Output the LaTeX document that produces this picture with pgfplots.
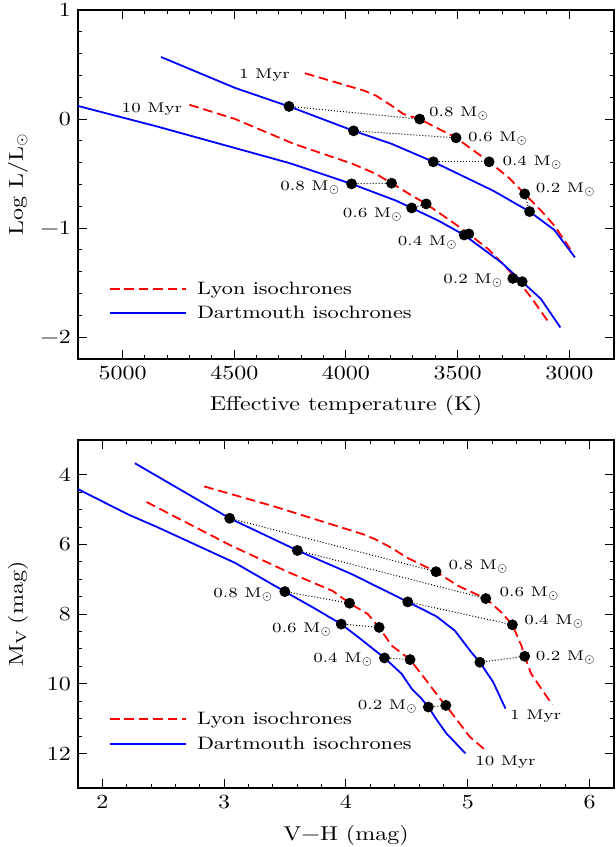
\documentclass[border=0pt]{standalone}
\usepackage{fontspec}
\setmainfont{Latin Modern Roman}[FakeStretch=1.2]
\usepackage{pgfplots}
\pgfplotsset{compat=1.18}
\definecolor{lyonred}{RGB}{255,0,0}
\definecolor{dartblue}{RGB}{0,0,255}
\tikzset{mlab/.style={font=\fontsize{7}{9}\selectfont, inner sep=0pt},
  legtext/.style={font=\fontsize{9}{11}\selectfont, inner sep=0pt, text height=7pt, text depth=2pt, anchor=west}}
\pgfplotsset{
 isoaxis/.style={
  scale only axis, width=268pt,
  tick align=inside, xtick pos=both, ytick pos=both,
  major tick length=4.5pt, minor tick length=2.2pt,
  every tick/.style={black, line width=0.5pt},
  axis line style={line width=1pt},
  tick label style={font=\fontsize{10}{12}\selectfont},
  label style={font=\fontsize{10.3}{13}\selectfont},
  every axis x label/.style={at={(axis description cs:0.5,0)}, anchor=base, yshift=-26pt},
  every axis y label/.style={at={(axis description cs:-0.112,0.5)}, rotate=90, anchor=center},
 },
 lyon/.style={color=lyonred, draw=lyonred, line width=0.9pt, dash pattern=on 4.8pt off 2.4pt},
 dart/.style={color=dartblue, draw=dartblue, line width=0.9pt, solid},
 link/.style={black, line width=0.5pt, dash pattern=on 0.5pt off 1pt, forget plot},
 dots/.style={only marks, mark=*, mark size=2.5pt, black, mark options={fill=black, solid}, forget plot},
}
\begin{document}
\begin{tikzpicture}
\useasboundingbox (0,0) rectangle (308pt,423.5pt);
% ---------------- top panel ----------------
\begin{axis}[isoaxis, at={(39pt,244pt)}, anchor=south west, height=174.5pt,
  x dir=reverse, xmin=2800, xmax=5200, ymin=-2.2, ymax=1,
  xtick={3000,3500,4000,4500,5000}, minor x tick num=4,
  xticklabels={3000,3500,4000,4500,5000},
  ytick={-2,-1,0,1}, minor y tick num=4,
  yticklabels={−2,−1,0,1},
  xlabel={Effective temperature (K)}, ylabel={Log L/L$_\odot$}]
% Lyon 1 Myr
\addplot[lyon, forget plot] coordinates {(4184,0.42) (3918,0.26) (3866,0.215) (3796,0.123) (3743,0.046) (3670,0.0) (3507,-0.172) (3359,-0.392) (3271,-0.538) (3200,-0.686) (3127,-0.839) (3067,-0.977) (2996,-1.191)};
% Dartmouth 1 Myr
\addplot[dart, forget plot] coordinates {(4828,0.569) (4496,0.285) (4255,0.116) (3966,-0.108) (3796,-0.227) (3609,-0.392) (3342,-0.656) (3178,-0.848) (3067,-1.017) (2975,-1.268)};
% Lyon 10 Myr
\addplot[lyon, forget plot] coordinates {(4701,0.131) (4496,0.0) (4234,-0.227) (3971,-0.41) (3866,-0.502) (3796,-0.588) (3706,-0.70) (3641,-0.778) (3512,-0.961) (3450,-1.053) (3364,-1.191) (3290,-1.344) (3230,-1.482) (3171,-1.635) (3089,-1.874)};
% Dartmouth 10 Myr
\addplot[dart, forget plot] coordinates {(5200,0.12) (4846,-0.068) (4251,-0.405) (3975,-0.594) (3776,-0.748) (3706,-0.815) (3587,-0.931) (3471,-1.063) (3305,-1.314) (3211,-1.491) (3127,-1.65) (3040,-1.911)};
% links
\addplot[link] coordinates {(4255,0.116) (3670,0.0)};
\addplot[link] coordinates {(3966,-0.108) (3507,-0.172)};
\addplot[link] coordinates {(3609,-0.392) (3359,-0.392)};
\addplot[link] coordinates {(3178,-0.848) (3200,-0.686)};
\addplot[link] coordinates {(3975,-0.594) (3796,-0.588)};
\addplot[link] coordinates {(3706,-0.815) (3641,-0.778)};
\addplot[link] coordinates {(3471,-1.063) (3450,-1.053)};
\addplot[link] coordinates {(3253,-1.461) (3211,-1.491)};
% dots
\addplot[dots] coordinates {(4255,0.116) (3670,0.0) (3966,-0.108) (3507,-0.172) (3609,-0.392) (3359,-0.392) (3178,-0.848) (3200,-0.686)
 (3975,-0.594) (3796,-0.588) (3706,-0.815) (3641,-0.778) (3471,-1.063) (3450,-1.053) (3253,-1.461) (3211,-1.491)};
% labels
\node[mlab, anchor=center] at (axis cs:4365,0.40) {1 Myr};
\node[mlab, anchor=center] at (axis cs:4869,0.095) {10 Myr};
\node[mlab, anchor=west] at (axis cs:3630,0.05) {0.8 M$_\odot$};
\node[mlab, anchor=west] at (axis cs:3455,-0.175) {0.6 M$_\odot$};
\node[mlab, anchor=west] at (axis cs:3301,-0.397) {0.4 M$_\odot$};
\node[mlab, anchor=west] at (axis cs:3152,-0.646) {0.2 M$_\odot$};
\node[mlab, anchor=east] at (axis cs:4023,-0.631) {0.8 M$_\odot$};
\node[mlab, anchor=east] at (axis cs:3743,-0.877) {0.6 M$_\odot$};
\node[mlab, anchor=east] at (axis cs:3497,-1.13) {0.4 M$_\odot$};
\node[mlab, anchor=east] at (axis cs:3293,-1.48) {0.2 M$_\odot$};
% legend (key)
\draw[lyonred, line width=0.9pt, dash pattern=on 4.8pt off 2.4pt] (axis description cs:0.0597,0.1997) -- (axis description cs:0.2015,0.1997);
\draw[dartblue, line width=0.9pt] (axis description cs:0.0597,0.131) -- (axis description cs:0.2015,0.131);
\node[legtext] at (axis description cs:0.2213,0.1997) {Lyon isochrones};
\node[legtext] at (axis description cs:0.2213,0.131) {Dartmouth isochrones};
\end{axis}
% ---------------- bottom panel ----------------
\begin{axis}[isoaxis, at={(39pt,29.35pt)}, anchor=south west, height=174.15pt,
  y dir=reverse, xmin=1.8, xmax=6.2, ymin=3, ymax=13,
  xtick={2,3,4,5,6}, minor x tick num=4, xticklabels={2,3,4,5,6},
  ytick={4,6,8,10,12}, minor y tick num=3, yticklabels={4,6,8,10,12},
  xlabel={V−H (mag)}, ylabel={M$_{\mathrm{V}}$ (mag)}]
% Lyon 1 Myr
\addplot[lyon, forget plot] coordinates {(2.836,4.333) (3.408,4.905) (4.148,5.714) (4.244,5.857) (4.373,6.095) (4.502,6.381) (4.614,6.571) (4.739,6.781) (4.921,7.19) (5.148,7.552) (5.276,7.95) (5.366,8.305) (5.44,8.905) (5.467,9.21) (5.52,9.71) (5.693,10.6)};
% Dartmouth 1 Myr
\addplot[dart, forget plot] coordinates {(2.267,3.667) (3.045,5.248) (3.601,6.171) (4.051,6.857) (4.507,7.648) (4.744,8.067) (4.894,8.476) (5.03,9.1) (5.099,9.381) (5.208,9.95) (5.309,10.71)};
% Lyon 10 Myr
\addplot[lyon, forget plot] coordinates {(2.363,4.78) (3.055,6.03) (3.537,6.81) (3.891,7.333) (4.029,7.686) (4.18,8.0) (4.272,8.38) (4.376,8.905) (4.526,9.305) (4.649,9.857) (4.772,10.43) (4.82,10.62) (5.016,11.52) (5.153,11.93)};
% Dartmouth 10 Myr
\addplot[dart, forget plot] coordinates {(1.8,4.41) (2.219,5.15) (2.444,5.49) (3.087,6.524) (3.498,7.352) (3.73,7.81) (3.961,8.286) (4.103,8.667) (4.316,9.257) (4.457,9.714) (4.539,10.14) (4.621,10.43) (4.676,10.667) (4.75,11.06) (4.823,11.42) (4.981,12.0)};
% links
\addplot[link] coordinates {(3.045,5.248) (4.739,6.781)};
\addplot[link] coordinates {(3.601,6.171) (5.148,7.552)};
\addplot[link] coordinates {(4.507,7.648) (5.366,8.305)};
\addplot[link] coordinates {(5.099,9.381) (5.467,9.21)};
\addplot[link] coordinates {(3.498,7.352) (4.029,7.686)};
\addplot[link] coordinates {(3.961,8.286) (4.272,8.38)};
\addplot[link] coordinates {(4.316,9.257) (4.526,9.305)};
\addplot[link] coordinates {(4.676,10.667) (4.82,10.62)};
% dots
\addplot[dots] coordinates {(3.045,5.248) (4.739,6.781) (3.601,6.171) (5.148,7.552) (4.507,7.648) (5.366,8.305) (5.099,9.381) (5.467,9.21)
 (3.498,7.352) (4.029,7.686) (3.961,8.286) (4.272,8.38) (4.316,9.257) (4.526,9.305) (4.676,10.667) (4.82,10.62)};
% labels
\node[mlab, anchor=west] at (axis cs:4.839,6.62) {0.8 M$_\odot$};
\node[mlab, anchor=west] at (axis cs:5.257,7.40) {0.6 M$_\odot$};
\node[mlab, anchor=west] at (axis cs:5.46,8.22) {0.4 M$_\odot$};
\node[mlab, anchor=west] at (axis cs:5.556,9.24) {0.2 M$_\odot$};
\node[mlab, anchor=east] at (axis cs:3.408,7.43) {0.8 M$_\odot$};
\node[mlab, anchor=east] at (axis cs:3.891,8.43) {0.6 M$_\odot$};
\node[mlab, anchor=east] at (axis cs:4.228,9.29) {0.4 M$_\odot$};
\node[mlab, anchor=east] at (axis cs:4.594,10.64) {0.2 M$_\odot$};
\node[mlab, anchor=west] at (axis cs:5.345,10.94) {1 Myr};
\node[mlab, anchor=west] at (axis cs:5.058,12.25) {10 Myr};
% legend (key)
\draw[lyonred, line width=0.9pt, dash pattern=on 4.8pt off 2.4pt] (axis description cs:0.0597,0.1982) -- (axis description cs:0.2015,0.1982);
\draw[dartblue, line width=0.9pt] (axis description cs:0.0597,0.1264) -- (axis description cs:0.2015,0.1264);
\node[legtext] at (axis description cs:0.2213,0.1982) {Lyon isochrones};
\node[legtext] at (axis description cs:0.2213,0.1264) {Dartmouth isochrones};
\end{axis}
\end{tikzpicture}
\end{document}
